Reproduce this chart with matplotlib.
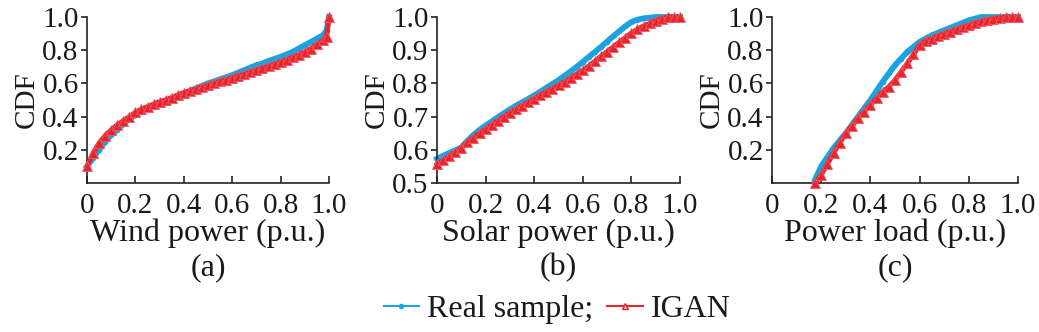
import numpy as np
import matplotlib
matplotlib.use("Agg")
import matplotlib.pyplot as plt
from matplotlib.lines import Line2D

plt.rcParams['font.family'] = ['Liberation Serif', 'DejaVu Serif']

# ---- data ----
x_wind = [0, .025, .05, .075, .1, .125, .15, .175, .2, .225, .25, .275, .3, .325, .35, .375,
          .4, .425, .45, .475, .5, .525, .55, .575, .6, .625, .65, .675, .7, .725, .75, .775,
          .8, .825, .85, .875, .9, .925, .95, .975, .99, 1.0]
wind_real = [0.10, 0.15, 0.20, 0.25, 0.29, 0.32, 0.355, 0.385, 0.41, 0.43, 0.45, 0.46, 0.475,
             0.49, 0.505, 0.52, 0.54, 0.555, 0.57, 0.585, 0.60, 0.612, 0.625, 0.637, 0.65,
             0.665, 0.68, 0.695, 0.71, 0.72, 0.735, 0.748, 0.76, 0.775, 0.79, 0.81, 0.83,
             0.85, 0.87, 0.89, 0.92, 1.0]
wind_igan = [0.10, 0.18, 0.24, 0.285, 0.32, 0.35, 0.375, 0.40, 0.425, 0.445, 0.46, 0.475, 0.49,
             0.50, 0.515, 0.53, 0.545, 0.555, 0.565, 0.578, 0.59, 0.60, 0.612, 0.622, 0.633,
             0.645, 0.655, 0.667, 0.68, 0.69, 0.703, 0.716, 0.73, 0.743, 0.758, 0.772, 0.79,
             0.81, 0.835, 0.86, 0.88, 1.0]

x_solar = [0, .025, .05, .075, .1, .125, .15, .175, .2, .225, .25, .275, .3, .325, .35, .375,
           .4, .425, .45, .475, .5, .525, .55, .575, .6, .625, .65, .675, .7, .725, .75, .775,
           .8, .825, .85, .875, .9, .925, .95, .975, 1.0]
solar_real = [0.573, 0.582, 0.59, 0.598, 0.607, 0.627, 0.645, 0.66, 0.673, 0.685, 0.698, 0.71,
              0.722, 0.733, 0.743, 0.753, 0.764, 0.775, 0.787, 0.798, 0.81, 0.823, 0.836,
              0.85, 0.865, 0.88, 0.895, 0.91, 0.926, 0.942, 0.957, 0.972, 0.985, 0.992,
              0.996, 0.998, 1.0, 1.0, 1.0, 1.0, 1.0]
solar_igan = [0.556, 0.568, 0.58, 0.592, 0.605, 0.622, 0.637, 0.65, 0.662, 0.675, 0.688, 0.70,
              0.712, 0.722, 0.733, 0.743, 0.754, 0.764, 0.774, 0.784, 0.794, 0.805, 0.816,
              0.828, 0.84, 0.853, 0.867, 0.882, 0.896, 0.91, 0.924, 0.938, 0.952, 0.963,
              0.973, 0.981, 0.988, 0.995, 1.0, 1.0, 1.0]

x_load = [.175, .2, .225, .25, .275, .3, .325, .35, .375, .4, .425, .45, .475, .5, .525, .55,
          .575, .6, .625, .65, .675, .7, .725, .75, .775, .8, .825, .85, .875, .9, .925, .95,
          .975, 1.0]
load_real = [0.02, 0.10, 0.155, 0.21, 0.255, 0.30, 0.35, 0.40, 0.45, 0.50, 0.555, 0.61, 0.66,
             0.71, 0.75, 0.79, 0.82, 0.85, 0.87, 0.89, 0.905, 0.92, 0.935, 0.95, 0.965, 0.98,
             0.99, 1.0, 1.0, 1.0, 1.0, 1.0, 1.0, 1.0]
load_igan = [0.0, 0.05, 0.115, 0.18, 0.24, 0.30, 0.345, 0.39, 0.43, 0.47, 0.51, 0.55, 0.58,
             0.62, 0.67, 0.72, 0.775, 0.83, 0.855, 0.87, 0.885, 0.90, 0.912, 0.925, 0.938,
             0.95, 0.962, 0.973, 0.982, 0.99, 0.995, 1.0, 1.0, 1.0]

xticks = [0, 0.2, 0.4, 0.6, 0.8, 1.0]
xticklabels = ['0', '0.2', '0.4', '0.6', '0.8', '1.0']
panels = [
    dict(x=x_wind, real=wind_real, igan=wind_igan, xlabel='Wind power (p.u.)', tag='(a)',
         ylim=(0, 1.0), yticks=[0.2, 0.4, 0.6, 0.8, 1.0],
         yticklabels=['0.2', '0.4', '0.6', '0.8', '1.0']),
    dict(x=x_solar, real=solar_real, igan=solar_igan, xlabel='Solar power (p.u.)', tag='(b)',
         ylim=(0.5, 1.0), yticks=[0.5, 0.6, 0.7, 0.8, 0.9, 1.0],
         yticklabels=['0.5', '0.6', '0.7', '0.8', '0.9', '1.0']),
    dict(x=x_load, real=load_real, igan=load_igan, xlabel='Power load (p.u.)', tag='(c)',
         ylim=(0, 1.0), yticks=[0.2, 0.4, 0.6, 0.8, 1.0],
         yticklabels=['0.2', '0.4', '0.6', '0.8', '1.0']),
]

BLUE = '#1ba3e0'
RED = '#e8252c'
INK = '#1a1a1a'
FS_TICK = 21
FS_LABEL = 23

W, H = 1039, 332
fig = plt.figure(figsize=(W / 100, H / 100), dpi=100)
boxes = [(87, 329), (437, 680), (772, 1018)]
top_px, bot_px = 17, 183

for (l, r), p in zip(boxes, panels):
    ax = fig.add_axes([l / W, 1 - bot_px / H, (r - l) / W, (bot_px - top_px) / H])
    ax.plot(p['x'], p['real'], color=BLUE, lw=4.2, marker='o', ms=3,
            mfc=BLUE, mec=BLUE, zorder=2, clip_on=False)
    ax.plot(p['x'], p['igan'], color=RED, lw=3.6, marker='^', ms=7,
            mfc=RED, mec='#f05a66', mew=0.6, zorder=3, clip_on=False)
    ax.set_xlim(0, 1.0)
    ax.set_ylim(*p['ylim'])
    ax.set_xticks(xticks)
    ax.set_xticklabels(xticklabels)
    ax.set_yticks(p['yticks'])
    ax.set_yticklabels(p['yticklabels'])
    for s in ('top', 'right'):
        ax.spines[s].set_visible(False)
    for s in ('left', 'bottom'):
        ax.spines[s].set_linewidth(1.2)
        ax.spines[s].set_color('#222222')
    ax.tick_params(axis='x', direction='in', length=5, width=1.2, pad=7,
                   labelsize=FS_TICK, colors='#222222', labelcolor=INK)
    ax.tick_params(axis='y', direction='out', length=4, width=1.2, pad=2,
                   labelsize=FS_TICK, colors='#222222', labelcolor=INK)
    ax.set_ylabel('CDF', fontsize=FS_TICK, labelpad=2, color=INK)
    ax.set_xlabel(p['xlabel'], fontsize=FS_LABEL, labelpad=0, color=INK)
    ax.text(0.5, -0.51, p['tag'], transform=ax.transAxes, ha='center', va='center',
            fontsize=FS_LABEL, color=INK)

handles = [
    Line2D([], [], color=BLUE, lw=1.5, marker='o', ms=3, mfc=BLUE, mec=BLUE),
    Line2D([], [], color=RED, lw=1.5, marker='^', ms=5, mfc='#f6b0b4', mec=RED),
]
fig.legend(handles, ['Real sample;', 'IGAN'], loc='center', bbox_to_anchor=(557 / W, 1 - 309 / H),
           ncol=2, frameon=False, fontsize=FS_LABEL, handlelength=1.1, handletextpad=0.25,
           columnspacing=0.45, borderpad=0, labelcolor=INK)

fig.savefig('out.png', dpi=100)
